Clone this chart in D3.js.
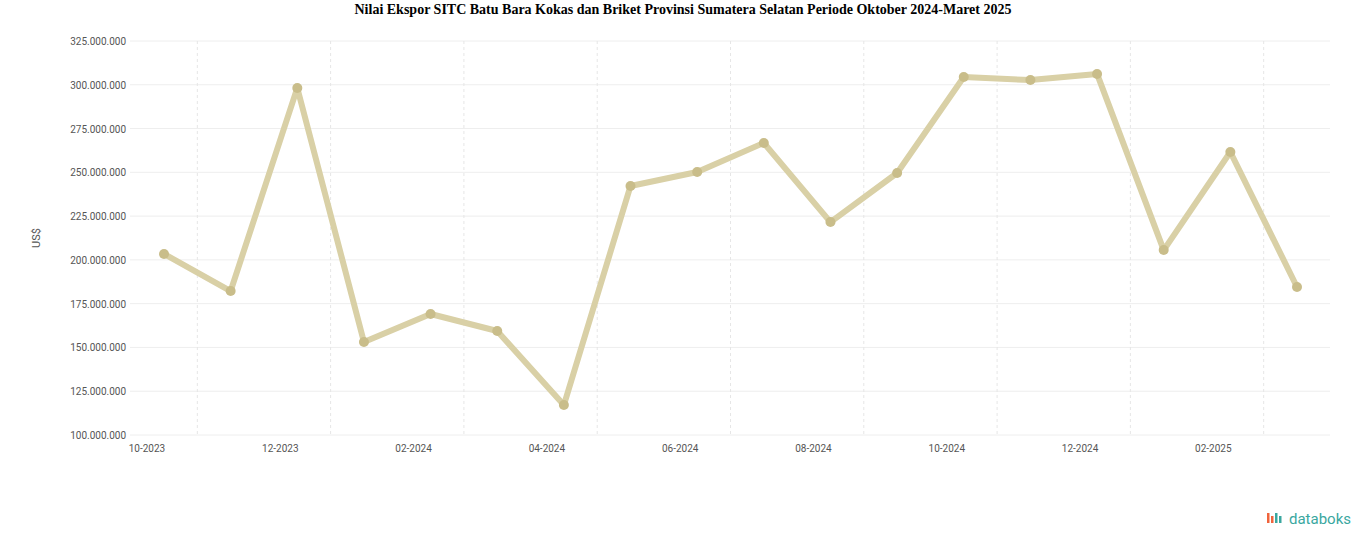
<!DOCTYPE html>
<html><head><meta charset="utf-8">
<script src="https://cdn.jsdelivr.net/npm/d3@7"></script>
<style>body{margin:0;background:#fff}</style></head>
<body><svg id="c" width="1366" height="547"></svg>
<script>
const categories=["10-2023","11-2023","12-2023","01-2024","02-2024","03-2024","04-2024","05-2024","06-2024","07-2024","08-2024","09-2024","10-2024","11-2024","12-2024","01-2025","02-2025","03-2025"];
const values=[203400000,182200000,298200000,153100000,169100000,159400000,117100000,242200000,250200000,266800000,221600000,249600000,304400000,302700000,306200000,205600000,261600000,184500000];
const yTicks=[100000000,125000000,150000000,175000000,200000000,225000000,250000000,275000000,300000000,325000000];
const svg=d3.select("#c");
const L=130,R=1330,T=41,B=435;
const x=d3.scalePoint().domain(categories).range([164,1297]);
const y=d3.scaleLinear().domain([100000000,325000000]).range([B,T]);
const fmt=v=>d3.format(",")(v).replace(/,/g,".");
svg.append("text").attr("x",683).attr("y",14).attr("text-anchor","middle").attr("font-family","Liberation Serif").attr("font-weight","bold").attr("font-size",14).text("Nilai Ekspor SITC Batu Bara Kokas dan Briket Provinsi Sumatera Selatan Periode Oktober 2024-Maret 2025");
const g=svg.append("g");
yTicks.forEach(t=>{g.append("line").attr("x1",L).attr("x2",R).attr("y1",y(t)).attr("y2",y(t)).attr("stroke","#eee");
 g.append("text").attr("x",L-4).attr("y",y(t)+4).attr("text-anchor","end").attr("font-family","Roboto").attr("font-size",10).attr("fill","#555").text(fmt(t));});
const step=x.step();
categories.forEach((c,i)=>{ if(i%2==0){ const gx=x(c)+step/2; g.append("line").attr("x1",gx).attr("x2",gx).attr("y1",T).attr("y2",B).attr("stroke","#e6e6e6").attr("stroke-dasharray","3,3");
 g.append("text").attr("x",x(c)-17).attr("y",452).attr("text-anchor","middle").attr("font-family","Roboto").attr("font-size",10).attr("fill","#555").text(c);}});
svg.append("text").attr("transform","translate(40,238) rotate(-90)").attr("text-anchor","middle").attr("font-family","Roboto").attr("font-size",11).attr("fill","#555").text("US$");
const line=d3.line().x((d,i)=>x(categories[i])).y(d=>y(d));
svg.append("path").datum(values).attr("d",line).attr("fill","none").attr("stroke","#d9d0a6").attr("stroke-width",6).attr("stroke-linejoin","round");
svg.selectAll("circle").data(values).join("circle").attr("cx",(d,i)=>x(categories[i])).attr("cy",d=>y(d)).attr("r",5).attr("fill","#c9bd8a");
svg.append("text").attr("x",1351).attr("y",524).attr("text-anchor","end").attr("font-family","Roboto").attr("font-size",15).attr("fill","#3aa7a0").text("databoks");
[0,1,2,3].forEach(i=>svg.append("rect").attr("x",1267+i*4).attr("y",513+(i%2)*3).attr("width",2.5).attr("height",10-(i%2)*3).attr("fill",i<2?"#f0643c":"#3aa7a0"));
</script></body></html>
